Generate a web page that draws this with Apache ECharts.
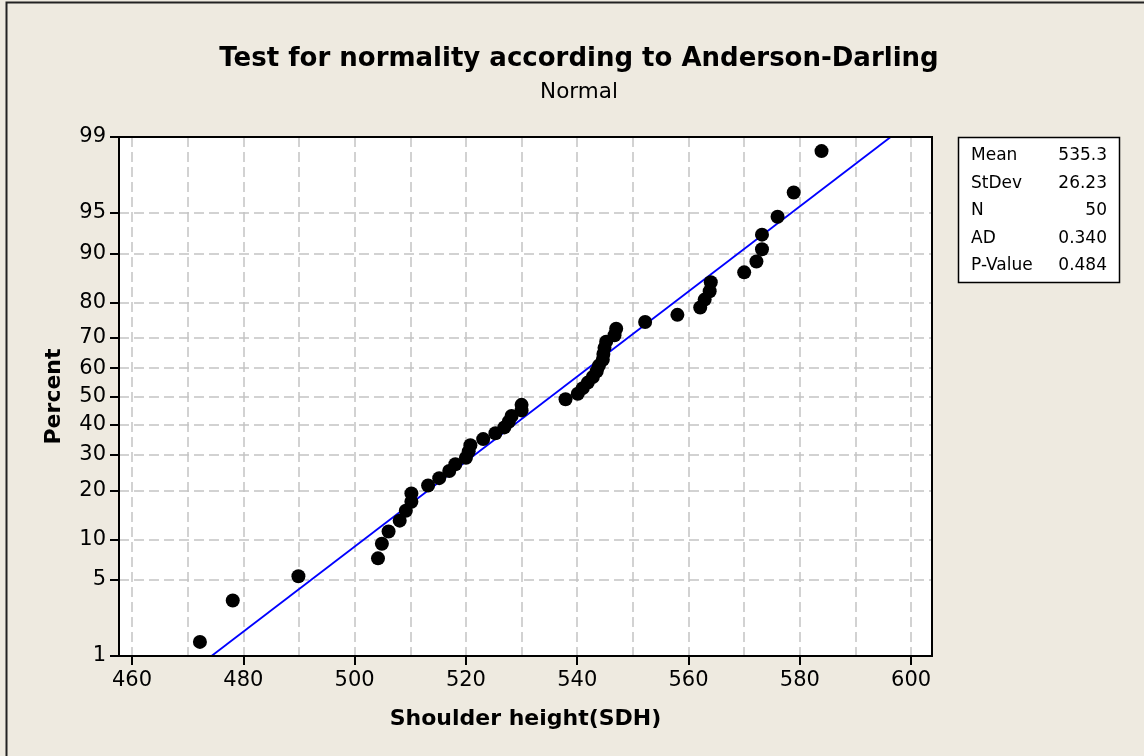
<!DOCTYPE html>
<html>
<head>
<meta charset="utf-8">
<script src="https://cdn.jsdelivr.net/npm/echarts@6/dist/echarts.min.js"></script>
<style>
html,body{margin:0;padding:0;background:#EEEAE0;}
#chart{width:1144px;height:756px;}
</style>
</head>
<body>
<div id="chart"></div>
<script>
// ---- data ----
const shoulderHeight = [472.2, 478.1, 489.9, 504.2, 504.9, 506.1, 508.1, 509.2, 510.2, 510.2,
  513.2, 515.2, 517.0, 518.1, 520.0, 520.5, 520.8, 523.1, 525.3, 526.9,
  527.7, 528.2, 530.0, 530.0, 537.9, 540.1, 541.0, 541.9, 542.8, 543.5,
  543.9, 544.6, 544.7, 544.9, 545.2, 546.7, 547.0, 552.2, 558.0, 562.1,
  562.9, 563.8, 564.0, 570.0, 572.2, 573.2, 573.2, 576.0, 578.9, 583.9];
const percentRank = [1.39, 3.37, 5.36, 7.34, 9.33, 11.31, 13.29, 15.28, 17.26, 19.25,
  21.23, 23.21, 25.20, 27.18, 29.17, 31.15, 33.13, 35.12, 37.10, 39.09,
  41.07, 43.06, 45.04, 47.02, 49.01, 50.99, 52.98, 54.96, 56.94, 58.93,
  60.91, 62.90, 64.88, 66.87, 68.85, 70.83, 72.82, 74.80, 76.79, 78.77,
  80.75, 82.74, 84.72, 86.71, 88.69, 90.67, 92.66, 94.64, 96.63, 98.61];
const percentTicks = [1, 5, 10, 20, 30, 40, 50, 60, 70, 80, 90, 95, 99];
const xLabelTicks = [460, 480, 500, 520, 540, 560, 580, 600];
const xGridTicks = [460, 470, 480, 490, 500, 510, 520, 530, 540, 550, 560, 570, 580, 590, 600];
const statNames = ['Mean', 'StDev', 'N', 'AD', 'P-Value'];
const statValues = ['535.3', '26.23', '50', '0.340', '0.484'];
const fitMean = 535.3;
const fitStDev = 26.23;

// inverse standard normal CDF (probability-scale transform)
function normInv(p) {
  const a = [-3.969683028665376e+01, 2.209460984245205e+02, -2.759285104469687e+02, 1.383577518672690e+02, -3.066479806614716e+01, 2.506628277459239e+00];
  const b = [-5.447609879822406e+01, 1.615858368580409e+02, -1.556989798598866e+02, 6.680131188771972e+01, -1.328068155288572e+01];
  const c = [-7.784894002430293e-03, -3.223964580411365e-01, -2.400758277161838e+00, -2.549732539343734e+00, 4.374664141464968e+00, 2.938163982698783e+00];
  const d = [7.784695709041462e-03, 3.224671290700398e-01, 2.445134137142996e+00, 3.754408661907416e+00];
  const pl = 0.02425, ph = 1 - pl;
  let q, r;
  if (p < pl) {
    q = Math.sqrt(-2 * Math.log(p));
    return (((((c[0]*q+c[1])*q+c[2])*q+c[3])*q+c[4])*q+c[5]) / ((((d[0]*q+d[1])*q+d[2])*q+d[3])*q+1);
  } else if (p <= ph) {
    q = p - 0.5; r = q * q;
    return (((((a[0]*r+a[1])*r+a[2])*r+a[3])*r+a[4])*r+a[5])*q / (((((b[0]*r+b[1])*r+b[2])*r+b[3])*r+b[4])*r+1);
  } else {
    q = Math.sqrt(-2 * Math.log(1 - p));
    return -(((((c[0]*q+c[1])*q+c[2])*q+c[3])*q+c[4])*q+c[5]) / ((((d[0]*q+d[1])*q+d[2])*q+d[3])*q+1);
  }
}
const zTicks = percentTicks.map(p => normInv(p / 100));
const zMin = zTicks[0], zMax = zTicks[zTicks.length - 1];
function zLabel(v) {
  let best = 0, bd = Infinity;
  zTicks.forEach((z, i) => { const dd = Math.abs(z - v); if (dd < bd) { bd = dd; best = i; } });
  return String(percentTicks[best]);
}

const points = shoulderHeight.map((x, i) => [x, normInv(percentRank[i] / 100)]);
const fitLine = [[fitMean + zMin * fitStDev, zMin], [fitMean + zMax * fitStDev, zMax]];

const FONT = 'DejaVu Sans';
const chart = echarts.init(document.getElementById('chart'), null, {renderer: 'canvas'});

const W = 1144, H = 756;
const gridL = 119, gridT = 137, gridR = 212, gridB = 100;

const graphics = [
  {type: 'polyline', shape: {points: [[6.5, H], [6.5, 2.5], [W, 2.5]]}, style: {stroke: '#222', lineWidth: 2, fill: null}, silent: true},
  {type: 'rect', z: 100, shape: {x: gridL, y: gridT, width: W - gridL - gridR, height: H - gridT - gridB}, style: {fill: null, stroke: '#000', lineWidth: 2}, silent: true},
  {type: 'rect', shape: {x: 958.5, y: 137.5, width: 161, height: 145}, style: {fill: '#fff', stroke: '#000', lineWidth: 1.5}, silent: true}
];
statNames.forEach((n, i) => {
  const y = 156 + i * 27.5;
  graphics.push({type: 'text', x: 971, y: y, style: {text: n, font: '17px "' + FONT + '"', fill: '#000', textAlign: 'left', textVerticalAlign: 'middle'}, silent: true});
  graphics.push({type: 'text', x: 1107, y: y, style: {text: statValues[i], font: '17px "' + FONT + '"', fill: '#000', textAlign: 'right', textVerticalAlign: 'middle'}, silent: true});
});

const option = {
  backgroundColor: '#EEEAE0',
  animation: false,
  textStyle: {fontFamily: FONT},
  title: {
    text: 'Test for normality according to Anderson-Darling',
    subtext: 'Normal',
    left: 574, top: 41, textAlign: 'center',
    itemGap: 9,
    textStyle: {fontFamily: FONT, fontSize: 26, fontWeight: 'bold', color: '#000'},
    subtextStyle: {fontFamily: FONT, fontSize: 21.5, color: '#000'}
  },
  grid: {left: gridL, top: gridT, right: gridR, bottom: gridB, show: true, backgroundColor: '#fff', borderColor: '#000', borderWidth: 2},
  xAxis: [
    {
      type: 'value', min: 457.66, max: 603.75, position: 'bottom',
      axisLine: {show: true, onZero: false, lineStyle: {color: '#000', width: 2}},
      axisTick: {show: false, customValues: xGridTicks},
      axisLabel: {show: false, customValues: xGridTicks},
      splitLine: {show: true, lineStyle: {color: '#c4c4c4', width: 1.5, type: [10, 5]}}
    },
    {
      type: 'value', min: 457.66, max: 603.75, position: 'bottom', offset: 0,
      name: 'Shoulder height(SDH)', nameLocation: 'middle', nameGap: 52,
      nameTextStyle: {fontFamily: FONT, fontSize: 22, fontWeight: 'bold', color: '#000'},
      axisLine: {show: false, onZero: false},
      axisTick: {show: true, customValues: xLabelTicks, length: 9, lineStyle: {color: '#000', width: 2}},
      axisLabel: {show: true, customValues: xLabelTicks, fontFamily: FONT, fontSize: 21, color: '#000', margin: 14},
      splitLine: {show: false}
    }
  ],
  yAxis: {
    type: 'value', min: zMin, max: zMax,
    name: 'Percent', nameLocation: 'middle', nameGap: 54,
    nameTextStyle: {fontFamily: FONT, fontSize: 22, fontWeight: 'bold', color: '#000'},
    axisLine: {show: true, onZero: false, lineStyle: {color: '#000', width: 2}},
    axisTick: {show: true, customValues: zTicks, length: 9, lineStyle: {color: '#000', width: 2}},
    axisLabel: {show: true, customValues: zTicks, formatter: zLabel, fontFamily: FONT, fontSize: 21, color: '#000', margin: 13},
    splitLine: {show: true, lineStyle: {color: '#c4c4c4', width: 1.5, type: [10, 5]}}
  },
  series: [
    {
      type: 'line', xAxisIndex: 0, data: fitLine, symbol: 'none',
      lineStyle: {color: '#0000ff', width: 1.8}, z: 3, silent: true
    },
    {
      type: 'scatter', xAxisIndex: 0, data: points, symbol: 'circle', symbolSize: 14,
      itemStyle: {color: '#000', opacity: 1}, z: 4, silent: true
    }
  ],
  graphic: graphics
};
chart.setOption(option);
</script>
</body>
</html>
